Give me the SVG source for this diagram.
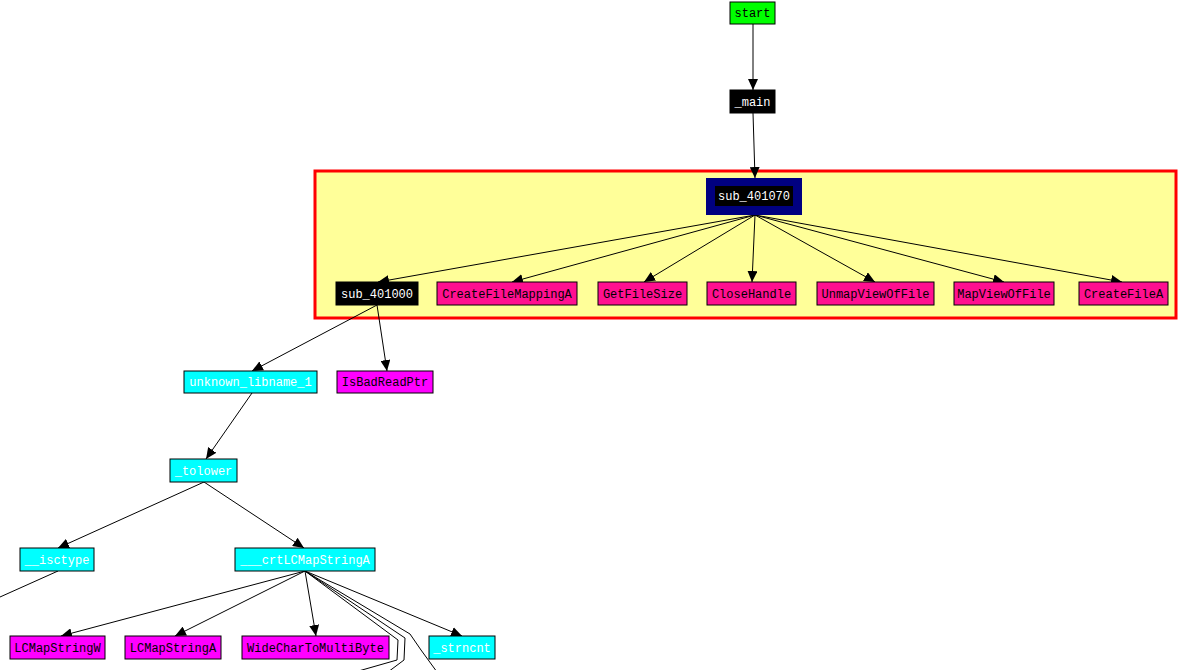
<svg xmlns="http://www.w3.org/2000/svg" width="1195" height="670" viewBox="0 0 1195 670">
<style>
.n rect{stroke:#000;stroke-width:1}
text{font-family:"Liberation Mono","DejaVu Sans Mono",monospace;font-size:12px;text-anchor:middle}
.w{fill:#fff}.k{fill:#000}
.imp{fill:#ff1090}.lib{fill:#00ffff}.api{fill:#ff00ff}.blk{fill:#000}
.e line,.e path{stroke:#000;stroke-width:1;fill:none}
</style>
<defs>
<marker id="ah" markerWidth="11" markerHeight="10" refX="11" refY="5" orient="auto" markerUnits="userSpaceOnUse">
<path d="M0,0 L11,5 L0,10 z" fill="#000"/>
</marker>
</defs>
<rect width="1195" height="670" fill="#fff"/>
<g id="cluster"><rect x="315" y="171" width="861" height="147" fill="#ffff99" stroke="#ff0000" stroke-width="3"/></g>
<g class="e" id="edges">
<line x1="753" y1="24" x2="753" y2="90" marker-end="url(#ah)"/>
<line x1="753" y1="113" x2="755" y2="178" marker-end="url(#ah)"/>
<line x1="755" y1="215" x2="378" y2="282" marker-end="url(#ah)"/>
<line x1="755" y1="215" x2="512" y2="282" marker-end="url(#ah)"/>
<line x1="755" y1="215" x2="644" y2="282" marker-end="url(#ah)"/>
<line x1="755" y1="215" x2="752" y2="282" marker-end="url(#ah)"/>
<line x1="755" y1="215" x2="875" y2="282" marker-end="url(#ah)"/>
<line x1="755" y1="215" x2="1004" y2="282" marker-end="url(#ah)"/>
<line x1="755" y1="215" x2="1122" y2="282" marker-end="url(#ah)"/>
<line x1="377" y1="305" x2="252" y2="371" marker-end="url(#ah)"/>
<line x1="377" y1="305" x2="387" y2="371" marker-end="url(#ah)"/>
<line x1="252" y1="393" x2="206" y2="459" marker-end="url(#ah)"/>
<line x1="204" y1="482" x2="58" y2="548" marker-end="url(#ah)"/>
<line x1="204" y1="482" x2="304" y2="548" marker-end="url(#ah)"/>
<line x1="58" y1="571" x2="0" y2="597"/>
<line x1="305" y1="571" x2="61" y2="636" marker-end="url(#ah)"/>
<line x1="305" y1="571" x2="175" y2="636" marker-end="url(#ah)"/>
<line x1="305" y1="571" x2="316" y2="636" marker-end="url(#ah)"/>
<line x1="305" y1="571" x2="462" y2="636" marker-end="url(#ah)"/>
<path d="M305,571 L398,640 L397,660 L355,672"/>
<path d="M305,571 L405,638 L404,660 L388,672"/>
<path d="M305,571 L410,634 L421,650 L437,672"/>
</g>
<g id="start" class="n"><rect x="730" y="2" width="45" height="22" fill="#00ff00"/><text x="752.5" y="17" class="k">start</text></g>
<g id="main" class="n"><rect x="730" y="90" width="45" height="23" class="blk"/><text x="752.5" y="106" class="w">_main</text></g>
<g id="sub_401070"><rect x="706" y="178" width="96" height="37" fill="#000080"/><rect x="715" y="186" width="78" height="20" fill="#000"/><text x="754" y="200" class="w">sub_401070</text></g>
<g id="sub_401000" class="n"><rect x="336" y="282" width="82" height="23" class="blk"/><text x="377" y="298" class="w">sub_401000</text></g>
<g id="CreateFileMappingA" class="n"><rect x="437" y="282" width="140" height="23" class="imp"/><text x="507" y="298" class="k">CreateFileMappingA</text></g>
<g id="GetFileSize" class="n"><rect x="598" y="282" width="89" height="23" class="imp"/><text x="642.5" y="298" class="k">GetFileSize</text></g>
<g id="CloseHandle" class="n"><rect x="707" y="282" width="89" height="23" class="imp"/><text x="751.5" y="298" class="k">CloseHandle</text></g>
<g id="UnmapViewOfFile" class="n"><rect x="817" y="282" width="117" height="23" class="imp"/><text x="875.5" y="298" class="k">UnmapViewOfFile</text></g>
<g id="MapViewOfFile" class="n"><rect x="954" y="282" width="100" height="23" class="imp"/><text x="1004" y="298" class="k">MapViewOfFile</text></g>
<g id="CreateFileA" class="n"><rect x="1079" y="282" width="89" height="23" class="imp"/><text x="1123.5" y="298" class="k">CreateFileA</text></g>
<g id="unknown_libname_1" class="n"><rect x="184" y="371" width="133" height="22" class="lib"/><text x="250.5" y="386" class="w">unknown_libname_1</text></g>
<g id="IsBadReadPtr" class="n"><rect x="337" y="371" width="96" height="22" class="api"/><text x="385" y="386" class="k">IsBadReadPtr</text></g>
<g id="tolower" class="n"><rect x="170" y="459" width="67" height="23" class="lib"/><text x="203.5" y="475" class="w">_tolower</text></g>
<g id="isctype" class="n"><rect x="20" y="548" width="74" height="23" class="lib"/><text x="57" y="564" class="w">__isctype</text></g>
<g id="crtLCMapStringA" class="n"><rect x="235" y="548" width="140" height="23" class="lib"/><text x="305" y="564" class="w">___crtLCMapStringA</text></g>
<g id="LCMapStringW" class="n"><rect x="10" y="636" width="95" height="23" class="api"/><text x="57.5" y="652" class="k">LCMapStringW</text></g>
<g id="LCMapStringA" class="n"><rect x="125" y="636" width="96" height="23" class="api"/><text x="173" y="652" class="k">LCMapStringA</text></g>
<g id="WideCharToMultiByte" class="n"><rect x="242" y="636" width="147" height="23" class="api"/><text x="315.5" y="652" class="k">WideCharToMultiByte</text></g>
<g id="strncnt" class="n"><rect x="429" y="636" width="66" height="23" class="lib"/><text x="462" y="652" class="w">_strncnt</text></g>
</svg>
